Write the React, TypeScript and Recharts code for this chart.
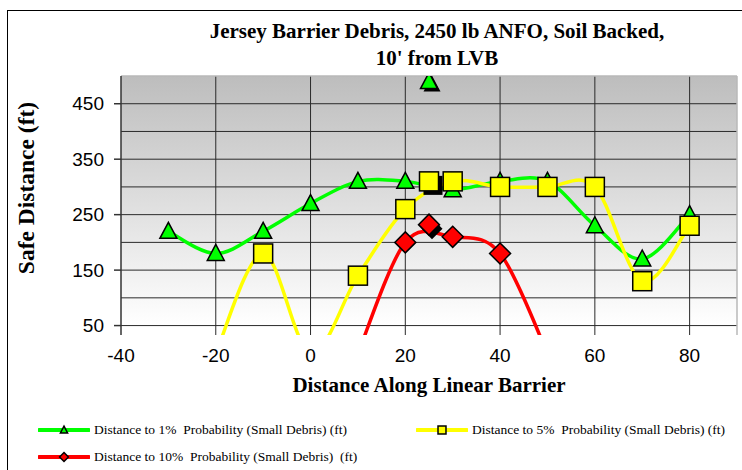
import { ComposedChart, Line, Scatter, XAxis, YAxis, CartesianGrid, ReferenceLine } from 'recharts'

const xTicks = [-40, -20, 0, 20, 40, 60, 80]
const yTicks = [50, 150, 250, 350, 450]
const gridY = [50, 100, 150, 200, 250, 300, 350, 400, 450]
const gridX = [-20, 0, 20, 40, 60, 80]

// distance along barrier (ft) / safe distance (ft)
const dist1 = [-30, -20, -10, 0, 10, 20, 30, 40, 50, 60, 70, 80]
const safe1 = [220, 180, 220, 270, 310, 310, 295, 310, 310, 230, 170, 250]
const dist5 = [-20, -10, 0, 10, 20, 30, 40, 50, 60, 70, 80]
const safe5 = [0, 180, 0, 140, 260, 310, 300, 300, 300, 130, 230]
const dist10 = [10, 20, 30, 40, 50]
const safe10 = [0, 200, 210, 180, 0]

// markers at 25 ft that sit off the curves
const extraDist = [25]
const extra1 = [490]
const extra5 = [310]
const extra10 = [232]

const toPts = (xs: number[], ys: number[]) => xs.map((x, i) => ({ x, y: ys[i] }))

const GREEN = '#00ff00'
const YELLOW = '#ffff00'
const RED = '#ff0000'

// Excel style smoothing (bezier with 1/6 tangents)
const excelSmooth = (ctx: any) => {
  let pts: number[][] = []
  return {
    areaStart() {},
    areaEnd() {},
    lineStart() {
      pts = []
    },
    point(x: number, y: number) {
      pts.push([+x, +y])
    },
    lineEnd() {
      if (!pts.length) return
      ctx.moveTo(pts[0][0], pts[0][1])
      for (let i = 0; i < pts.length - 1; i++) {
        const a = pts[Math.max(i - 1, 0)]
        const b = pts[i]
        const c = pts[i + 1]
        const d = pts[Math.min(i + 2, pts.length - 1)]
        ctx.bezierCurveTo(
          b[0] + (c[0] - a[0]) / 6,
          b[1] + (c[1] - a[1]) / 6,
          c[0] - (d[0] - b[0]) / 6,
          c[1] - (d[1] - b[1]) / 6,
          c[0],
          c[1]
        )
      }
    },
  }
}

const Tri = ({ cx, cy, s = 1, shadow = false }: any) => {
  const d = `M${cx},${cy - 9 * s}L${cx + 8.5 * s},${cy + 7 * s}L${cx - 8.5 * s},${cy + 7 * s}Z`
  return (
    <g>
      {shadow && <path d={d} transform="translate(3,3)" fill="#000" />}
      <path d={d} fill={GREEN} stroke="#000" strokeWidth={1.5} strokeLinejoin="miter" />
    </g>
  )
}

const Sq = ({ cx, cy, s = 1, shadow = false }: any) => {
  const h = 9.5 * s
  return (
    <g>
      {shadow && <rect x={cx - h + 4} y={cy - h + 4} width={h * 2} height={h * 2} fill="#000" />}
      <rect x={cx - h} y={cy - h} width={h * 2} height={h * 2} fill={YELLOW} stroke="#000" strokeWidth={1.5} />
    </g>
  )
}

const Dia = ({ cx, cy, s = 1, shadow = false }: any) => {
  const h = 10.5 * s
  const d = `M${cx},${cy - h}L${cx + h},${cy}L${cx},${cy + h}L${cx - h},${cy}Z`
  return (
    <g>
      {shadow && <path d={d} transform="translate(3,4)" fill="#000" />}
      <path d={d} fill={RED} stroke="#000" strokeWidth={1.5} />
    </g>
  )
}

const serif = '"Liberation Serif", "Times New Roman", serif'
const sans = '"Liberation Sans", Arial, sans-serif'

const LegendItem = ({ color, Mark, label, left, top }: any) => {
  const rowStyle: React.CSSProperties = {
    position: 'absolute',
    left,
    top,
    display: 'flex',
    alignItems: 'center',
    fontFamily: serif,
    fontSize: '13.5px',
    color: '#000',
    whiteSpace: 'pre',
    lineHeight: '16px',
  }
  return (
    <div style={rowStyle}>
      <svg width={52} height={12} style={{ marginRight: 4 }}>
        <line x1={1} y1={6} x2={51} y2={6} stroke={color} strokeWidth={4} strokeLinecap="round" />
        <Mark cx={26} cy={6} s={0.42} />
      </svg>
      <span>{label}</span>
    </div>
  )
}

export default function App() {
  const wrapStyle: React.CSSProperties = {
    position: 'absolute',
    left: 0,
    top: 0,
    width: 742,
    height: 470,
    overflow: 'hidden',
    background: '#fff',
  }

  const frameStyle: React.CSSProperties = {
    position: 'absolute',
    left: 7,
    top: 10,
    width: 800,
    height: 500,
    borderLeft: '1.5px solid #000',
    borderTop: '1.5px solid #000',
  }

  const titleStyle: React.CSSProperties = {
    position: 'absolute',
    left: 137,
    top: 18,
    width: 600,
    textAlign: 'center',
    fontFamily: serif,
    fontWeight: 700,
    fontSize: '21px',
    lineHeight: '27px',
    color: '#000',
  }

  const xLabelStyle: React.CSSProperties = {
    position: 'absolute',
    left: 129,
    top: 372,
    width: 600,
    textAlign: 'center',
    fontFamily: serif,
    fontWeight: 700,
    fontSize: '21px',
    lineHeight: '26px',
    color: '#000',
  }

  const yLabelStyle: React.CSSProperties = {
    position: 'absolute',
    left: 26 - 150,
    top: 188 - 14,
    width: 300,
    height: 28,
    textAlign: 'center',
    fontFamily: serif,
    fontWeight: 700,
    fontSize: '23.5px',
    lineHeight: '28px',
    color: '#000',
    transform: 'rotate(-90deg)',
  }

  return (
    <div style={wrapStyle}>
      <div style={frameStyle} />
      <div style={{ position: 'absolute', left: 0, top: 0 }}>
        <ComposedChart width={742} height={470} margin={{ top: 76, right: 5, left: 61, bottom: 105 }}>
          <defs>
            <linearGradient id="plotBg" x1="0" y1="0" x2="0" y2="1">
              <stop offset="0" stopColor="#bdbdbd" />
              <stop offset="0.964" stopColor="#ffffff" />
            </linearGradient>
          </defs>
          <CartesianGrid
            horizontalValues={gridY}
            verticalValues={gridX}
            stroke="#2a2a2a"
            strokeWidth={1}
            fill="url(#plotBg)"
            fillOpacity={1}
          />
          <ReferenceLine y={500} stroke="#b8b8b8" strokeWidth={1.5} />
          <ReferenceLine x={90} stroke="#b8b8b8" strokeWidth={1.5} />
          <XAxis
            dataKey="x"
            type="number"
            domain={[-40, 90]}
            ticks={xTicks}
            allowDataOverflow
            axisLine={false}
            tickLine={false}
            tickSize={6}
            tickMargin={8}
            height={30}
            tick={{ fontSize: 19, fontFamily: sans, fill: '#000' }}
          />
          <YAxis
            type="number"
            domain={[33, 500]}
            ticks={yTicks}
            allowDataOverflow
            width={60}
            tickSize={7}
            tickMargin={10}
            axisLine={{ stroke: '#333', strokeWidth: 1.5 }}
            tickLine={{ stroke: '#333', strokeWidth: 1.5 }}
            tick={{ fontSize: 19, fontFamily: sans, fill: '#000' }}
          />
          <Line
            data={toPts(dist1, safe1)}
            dataKey="y"
            type={excelSmooth as any}
            stroke={GREEN}
            strokeWidth={3.5}
            isAnimationActive={false}
            dot={(p: any) => <Tri key={`g${p.index}`} cx={p.cx} cy={p.cy} />}
            activeDot={false}
          />
          <Line
            data={toPts(dist5, safe5)}
            dataKey="y"
            type={excelSmooth as any}
            stroke={YELLOW}
            strokeWidth={3.5}
            isAnimationActive={false}
            dot={(p: any) => <Sq key={`y${p.index}`} cx={p.cx} cy={p.cy} />}
            activeDot={false}
          />
          <Line
            data={toPts(dist10, safe10)}
            dataKey="y"
            type={excelSmooth as any}
            stroke={RED}
            strokeWidth={3.5}
            isAnimationActive={false}
            dot={(p: any) => <Dia key={`r${p.index}`} cx={p.cx} cy={p.cy} />}
            activeDot={false}
          />
          <Scatter
            data={toPts(extraDist, extra1)}
            dataKey="y"
            isAnimationActive={false}
            shape={(p: any) => <Tri cx={p.cx} cy={p.cy} shadow />}
          />
          <Scatter
            data={toPts(extraDist, extra5)}
            dataKey="y"
            isAnimationActive={false}
            shape={(p: any) => <Sq cx={p.cx} cy={p.cy} shadow />}
          />
          <Scatter
            data={toPts(extraDist, extra10)}
            dataKey="y"
            isAnimationActive={false}
            shape={(p: any) => <Dia cx={p.cx} cy={p.cy} shadow />}
          />
        </ComposedChart>
      </div>
      <div style={titleStyle}>
        Jersey Barrier Debris, 2450 lb ANFO, Soil Backed,
        <br />
        10' from LVB
      </div>
      <div style={xLabelStyle}>Distance Along Linear Barrier</div>
      <div style={yLabelStyle}>Safe Distance (ft)</div>
      <LegendItem color={GREEN} Mark={Tri} label="Distance to 1%  Probability (Small Debris) (ft)" left={38} top={422} />
      <LegendItem color={YELLOW} Mark={Sq} label="Distance to 5%  Probability (Small Debris) (ft)" left={416} top={422} />
      <LegendItem color={RED} Mark={Dia} label="Distance to 10%  Probability (Small Debris)  (ft)" left={38} top={449} />
    </div>
  )
}
